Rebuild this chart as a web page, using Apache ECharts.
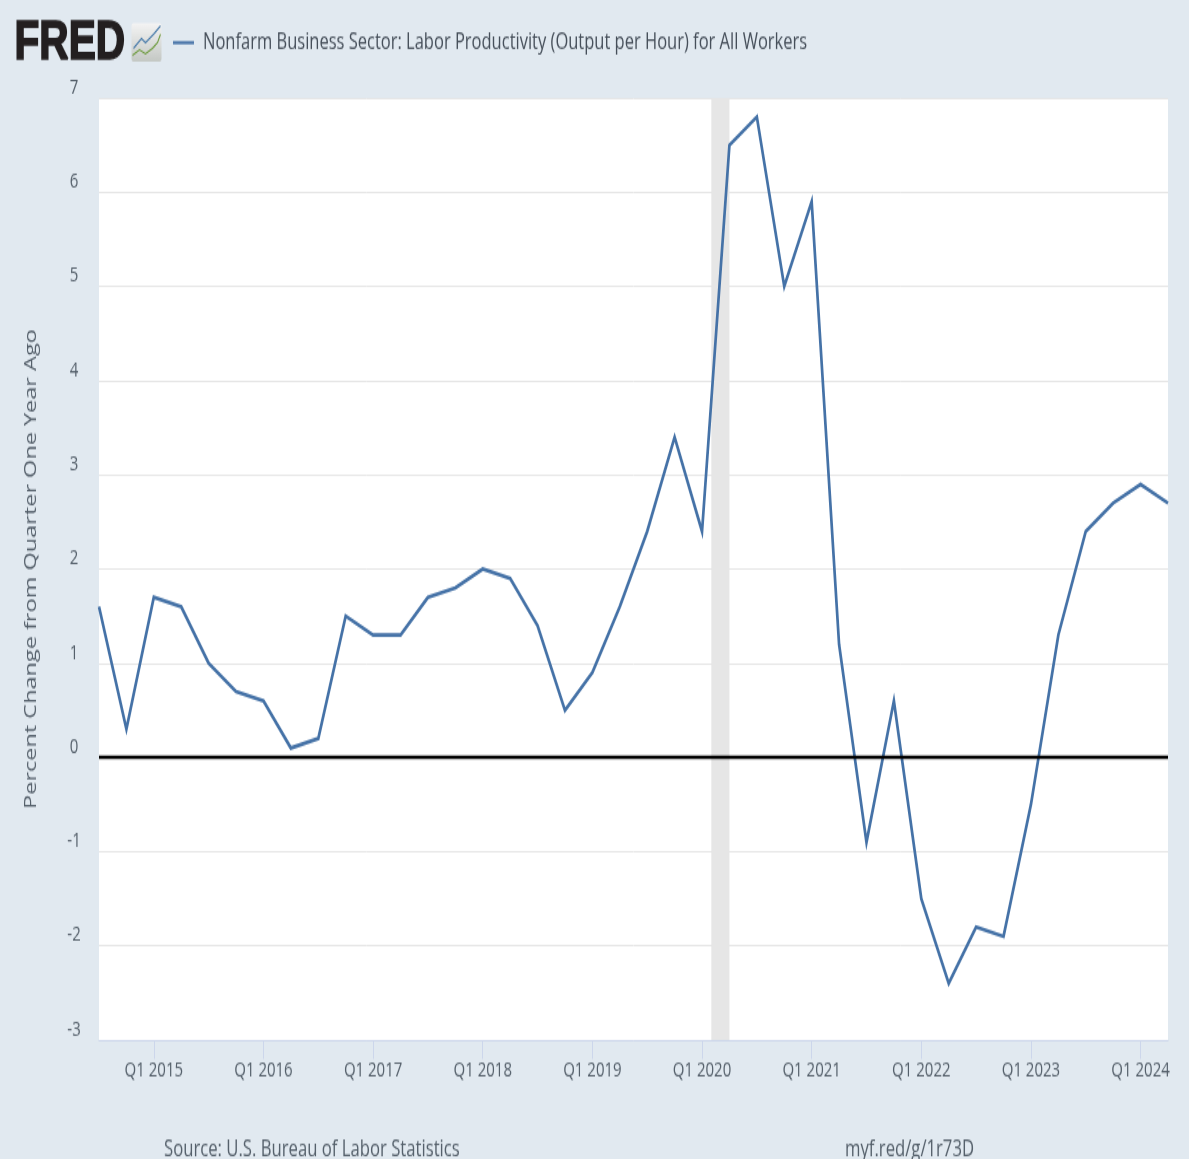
<!DOCTYPE html>
<html><head><meta charset="utf-8">
<style>html,body{margin:0;padding:0;background:#e1e9f0;width:1189px;height:1159px}#c{width:1189px;height:828px;transform-origin:0 0;transform:scaleY(1.39976)}</style>
<script src="https://cdn.jsdelivr.net/npm/echarts@6/dist/echarts.min.js"></script>
</head><body><div id="c"></div>
<script>
const seriesName = 'Nonfarm Business Sector: Labor Productivity (Output per Hour) for All Workers';
const yAxisTitle = 'Percent Change from Quarter One Year Ago';
const sourceText = 'Source: U.S. Bureau of Labor Statistics';
const linkText = 'myf.red/g/1r73D';
const quarters = [
 'Q3 2014','Q4 2014',
 'Q1 2015','Q2 2015','Q3 2015','Q4 2015',
 'Q1 2016','Q2 2016','Q3 2016','Q4 2016',
 'Q1 2017','Q2 2017','Q3 2017','Q4 2017',
 'Q1 2018','Q2 2018','Q3 2018','Q4 2018',
 'Q1 2019','Q2 2019','Q3 2019','Q4 2019',
 'Q1 2020','Q2 2020','Q3 2020','Q4 2020',
 'Q1 2021','Q2 2021','Q3 2021','Q4 2021',
 'Q1 2022','Q2 2022','Q3 2022','Q4 2022',
 'Q1 2023','Q2 2023','Q3 2023','Q4 2023',
 'Q1 2024','Q2 2024'];
const values = [
 1.6,0.3,
 1.7,1.6,1.0,0.7,
 0.6,0.1,0.2,1.5,
 1.3,1.3,1.7,1.8,
 2.0,1.9,1.4,0.5,
 0.9,1.6,2.4,3.4,
 2.4,6.5,6.8,5.0,
 5.9,1.2,-0.9,0.6,
 -1.5,-2.4,-1.8,-1.9,
 -0.5,1.3,2.4,2.7,
 2.9,2.7];
const tickYears = [2015,2016,2017,2018,2019,2020,2021,2022,2023,2024];
const recession = [2020.085,2020.25];
const xRange = [2014.5,2024.25];
const yRange = [-3,7];

const toYear = q => +q.slice(3) + (+q[1]-1)/4;
const font = '"Open Sans",sans-serif';
const textCol = '#55606b';
const chart = echarts.init(document.getElementById('c'),null,{renderer:'canvas'});
chart.setOption({
 animation:false,
 backgroundColor:'#e1e9f0',
 legend:{show:true,left:168,top:17,icon:'rect',itemWidth:21,itemHeight:2.2,itemGap:8,
   data:[seriesName],
   textStyle:{fontFamily:font,fontSize:16.5,color:'#464f5a',padding:[0,0,0,4]}},
 grid:{left:99,right:21,top:70,bottom:85,show:true,backgroundColor:'#ffffff',borderWidth:0},
 xAxis:{type:'value',min:xRange[0],max:xRange[1],
   splitLine:{show:false},
   axisLine:{show:true,onZero:false,lineStyle:{color:'#ccd6eb',width:1}},
   axisTick:{show:true,length:13.5,customValues:tickYears,lineStyle:{color:'#ccd6eb',width:1}},
   axisLabel:{customValues:tickYears,formatter:v=>'Q1 '+v,margin:14,hideOverlap:false,showMinLabel:true,showMaxLabel:true,
     fontFamily:font,fontSize:15,color:textCol}},
 yAxis:{type:'value',min:yRange[0],max:yRange[1],interval:1,
   name:yAxisTitle,nameLocation:'middle',nameGap:59,
   nameTextStyle:{fontFamily:font,fontSize:16.8,color:textCol},
   axisLine:{show:false},axisTick:{show:false},
   splitLine:{lineStyle:{color:'#e6e6e6',width:1}},
   axisLabel:{align:'center',verticalAlign:'bottom',margin:25,fontFamily:font,fontSize:15,color:textCol,lineHeight:15}},
 series:[{
   name:seriesName,type:'line',showSymbol:false,symbol:'none',clip:true,
   data:quarters.map((q,i)=>[toYear(q),values[i]]),
   lineStyle:{color:'#4572a7',width:2.7,join:'miter'},itemStyle:{color:'#4572a7'},
   markArea:{silent:true,itemStyle:{color:'#e6e6e6',opacity:1},
     data:[[{xAxis:recession[0]},{xAxis:recession[1]}]]},
   markLine:{silent:true,symbol:'none',label:{show:false},z:5,
     lineStyle:{color:'#000000',width:2.4,type:'solid'},data:[{yAxis:0}]}
 }],
 graphic:[
  {type:'text',x:14.5,y:12,scaleX:1.05,style:{text:'FRED',fontFamily:'"Liberation Sans",sans-serif',fontWeight:'bold',fontSize:38.7,fill:'#231f20',stroke:'#231f20',lineWidth:1.4}},
  {type:'group',left:130,top:16,children:[
    {type:'rect',shape:{x:0,y:0,width:30,height:27.5,r:2},style:{fill:{type:'linear',x:0,y:0,x2:0,y2:1,colorStops:[{offset:0,color:'#f4f4f4'},{offset:1,color:'#c4c8c4'}]}}},
    {type:'polyline',shape:{points:[[2,18],[10,11],[14,14],[22,8],[29,2]]},style:{stroke:'#4a7cab',fill:'none',lineWidth:1.1}},
    {type:'polyline',shape:{points:[[1,23],[8,19],[14,22],[21,18],[26,14],[29,8]]},style:{stroke:'#6c9a3c',fill:'none',lineWidth:1.1}}
  ]},
  {type:'text',left:164,top:812.5,style:{text:sourceText,fontFamily:font,fontSize:16.7,fill:textCol}},
  {type:'text',left:845,top:812.5,style:{text:linkText,fontFamily:font,fontSize:16.7,fill:textCol}}
 ]
});
</script></body></html>
